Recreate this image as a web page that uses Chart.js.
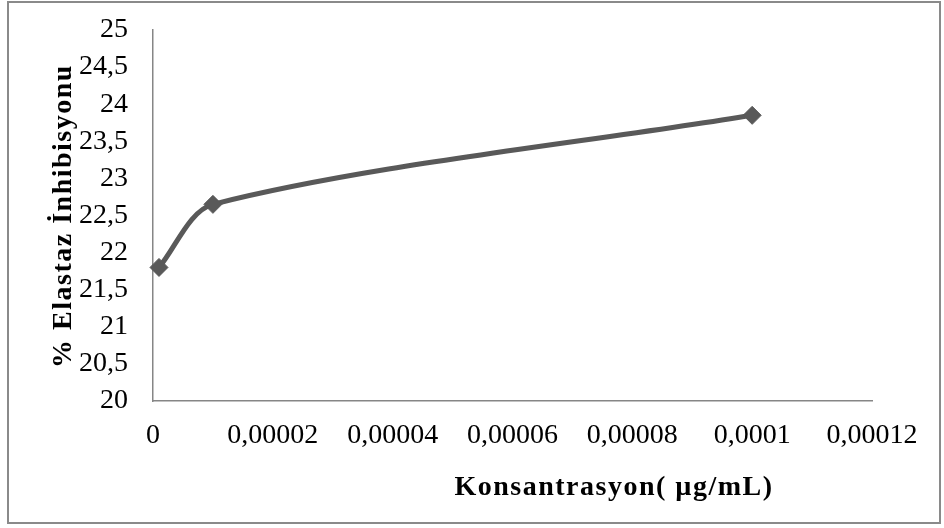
<!DOCTYPE html>
<html>
<head>
<meta charset="utf-8">
<script src="https://cdn.jsdelivr.net/npm/chart.js@4/dist/chart.umd.min.js"></script>
<style>
  html, body { margin: 0; padding: 0; background: #ffffff; }
  #wrap { position: relative; width: 944px; height: 528px; }
</style>
</head>
<body>
<div id="wrap"><canvas id="c" width="944" height="528"></canvas></div>
<script>
// Elastase inhibition (%) against concentration (µg/mL)
const concentration = [0.000001, 0.00001, 0.0001];
const inhibition = [21.8, 22.65, 23.85];

const xTickValues = [0, 0.00002, 0.00004, 0.00006, 0.00008, 0.0001, 0.00012];
const xTickLabels = ['0', '0,00002', '0,00004', '0,00006', '0,00008', '0,0001', '0,00012'];
const yTickValues = [20, 20.5, 21, 21.5, 22, 22.5, 23, 23.5, 24, 24.5, 25];
const yTickLabels = ['20', '20,5', '21', '21,5', '22', '22,5', '23', '23,5', '24', '24,5', '25'];

const xTitle = 'Konsantrasyon( µg/mL)';
const yTitle = '% Elastaz İnhibisyonu';

const SERIF = '"Liberation Serif", "Times New Roman", serif';

// Frame around the whole chart and the two axis titles
const decorations = {
  id: 'decorations',
  beforeDraw(chart) {
    const ctx = chart.ctx;
    ctx.save();
    ctx.fillStyle = '#ffffff';
    ctx.fillRect(0, 0, chart.width, chart.height);
    ctx.strokeStyle = '#8a8a8a';
    ctx.lineWidth = 2;
    ctx.strokeRect(8, 2, 932, 521);
    ctx.restore();
  },
  afterDraw(chart) {
    const ctx = chart.ctx;
    ctx.save();
    ctx.fillStyle = '#000000';
    ctx.font = 'bold 28px ' + SERIF;
    if ('letterSpacing' in ctx) ctx.letterSpacing = '1.5px';
    ctx.textBaseline = 'alphabetic';
    ctx.textAlign = 'center';
    ctx.fillText(xTitle, 614, 495);
    ctx.translate(71, 216);
    ctx.rotate(-Math.PI / 2);
    ctx.fillText(yTitle, 0, 0);
    ctx.restore();
  }
};

// Keep the plot box fixed: no extra room reserved for overhanging tick labels
function noEdgePadding(scale) {
  scale.paddingTop = 0;
  scale.paddingBottom = 0;
  scale.paddingLeft = 0;
  scale.paddingRight = 0;
}

const points = concentration.map((x, i) => ({ x: x, y: inhibition[i] }));

new Chart(document.getElementById('c'), {
  type: 'line',
  data: {
    datasets: [{
      data: points,
      borderColor: '#595959',
      backgroundColor: '#595959',
      borderWidth: 5,
      tension: 0.3,
      pointStyle: 'rectRot',
      pointRadius: 9,
      pointBorderWidth: 1,
      pointBackgroundColor: '#595959',
      pointBorderColor: '#595959',
      clip: false,
      fill: false
    }]
  },
  options: {
    responsive: false,
    animation: false,
    events: [],
    layout: { padding: { left: 0, right: 72, top: 30, bottom: 0 } },
    plugins: {
      legend: { display: false },
      tooltip: { enabled: false },
      title: { display: false }
    },
    scales: {
      x: {
        type: 'linear',
        min: 0,
        max: 0.00012,
        afterBuildTicks(scale) { scale.ticks = xTickValues.map(v => ({ value: v })); },
        afterFit(scale) { scale.height = 127; noEdgePadding(scale); },
        grid: { display: false, drawTicks: false },
        border: { display: true, color: '#868686', width: 1.5 },
        ticks: {
          autoSkip: false,
          maxRotation: 0,
          padding: 18,
          color: '#000000',
          font: { family: SERIF, size: 28 },
          callback: (v, i) => xTickLabels[i]
        }
      },
      y: {
        type: 'linear',
        min: 20,
        max: 25,
        afterBuildTicks(scale) { scale.ticks = yTickValues.map(v => ({ value: v })); },
        afterFit(scale) { scale.width = 153; noEdgePadding(scale); },
        grid: { display: false, drawTicks: false },
        border: { display: true, color: '#868686', width: 1.5 },
        ticks: {
          autoSkip: false,
          padding: 25,
          color: '#000000',
          font: { family: SERIF, size: 28 },
          callback: (v, i) => yTickLabels[i]
        }
      }
    }
  },
  plugins: [decorations]
});
</script>
</body>
</html>
